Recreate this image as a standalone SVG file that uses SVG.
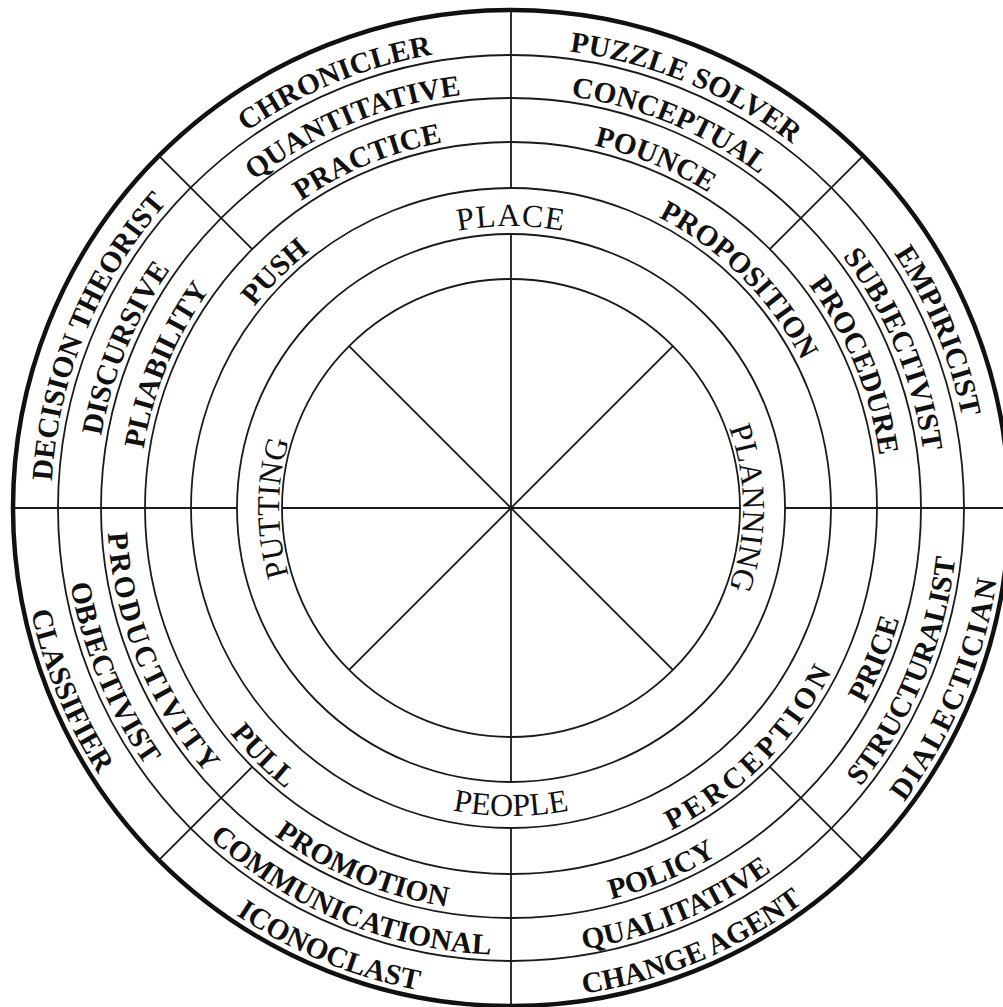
<svg xmlns="http://www.w3.org/2000/svg" xmlns:xlink="http://www.w3.org/1999/xlink" width="1003" height="1007" viewBox="0 0 1003 1007">
<style>
.ring{fill:none;stroke:#1a1a1a;stroke-width:1.8}
.outer{fill:none;stroke:#111;stroke-width:4.5}
.ln{stroke:#1a1a1a;stroke-width:1.8;fill:none}
.b{font-family:"Liberation Serif","Times New Roman",serif;font-weight:bold;font-size:29.5px;fill:#111}
.r{font-family:"Liberation Serif","Times New Roman",serif;font-size:32px;fill:#111}
</style>
<defs>
<path id="cwA" d="M 346.95 343.95 A 232 232 0 0 1 675.05 343.95"/>
<path id="cwB" d="M 311.60 308.60 A 282 282 0 0 1 710.40 308.60"/>
<path id="cwC" d="M 280.48 277.48 A 326 326 0 0 1 741.52 277.48"/>
<path id="cwD" d="M 247.96 244.96 A 372 372 0 0 1 774.04 244.96"/>
<path id="cwE" d="M 216.84 213.84 A 416 416 0 0 1 805.16 213.84"/>
<path id="cwF" d="M 185.73 182.73 A 460 460 0 0 1 836.27 182.73"/>
<path id="ccB" d="M 293.21 725.79 A 308 308 0 0 0 728.79 725.79"/>
<path id="ccC" d="M 256.44 762.56 A 360 360 0 0 0 765.56 762.56"/>
<path id="ccD" d="M 225.33 793.67 A 404 404 0 0 0 796.67 793.67"/>
<path id="ccE" d="M 194.92 824.08 A 447 447 0 0 0 827.08 824.08"/>
<path id="ccF" d="M 163.81 855.19 A 491 491 0 0 0 858.19 855.19"/>
</defs>
<rect width="1003" height="1007" fill="#fff"/>
<g id="rings">
<circle class="outer" cx="511" cy="508" r="498"/>
<circle class="ring" cx="511" cy="508" r="453"/>
<circle class="ring" cx="511" cy="508" r="410"/>
<circle class="ring" cx="511" cy="508" r="366"/>
<circle class="ring" cx="511" cy="508" r="320"/>
<circle class="ring" cx="511" cy="508" r="274"/>
<circle class="ring" cx="511" cy="508" r="229"/>
</g>
<g id="connectors">
<line class="ln" x1="511" y1="10" x2="511" y2="188"/>
<line class="ln" x1="511" y1="234" x2="511" y2="782"/>
<line class="ln" x1="511" y1="828" x2="511" y2="1006"/>
<line class="ln" x1="13" y1="508" x2="237" y2="508"/>
<line class="ln" x1="282" y1="508" x2="740" y2="508"/>
<line class="ln" x1="785" y1="508" x2="1003" y2="508"/>
<line class="ln" x1="349.1" y1="346.1" x2="672.9" y2="669.9"/>
<line class="ln" x1="672.9" y1="346.1" x2="349.1" y2="669.9"/>
<line class="ln" x1="252.2" y1="249.2" x2="158.9" y2="155.9"/>
<line class="ln" x1="769.8" y1="249.2" x2="863.1" y2="155.9"/>
<line class="ln" x1="252.2" y1="766.8" x2="158.9" y2="860.1"/>
<line class="ln" x1="769.8" y1="766.8" x2="863.1" y2="860.1"/>
</g>
<g id="core">
<text class="r" letter-spacing="1"><textPath href="#cwB" xlink:href="#cwB" startOffset="50%" text-anchor="middle">PLACE</textPath></text>
<text class="r"><textPath href="#ccB" xlink:href="#ccB" startOffset="50%" text-anchor="middle">PEOPLE</textPath></text>
<text class="r" transform="rotate(-90 511 508)"><textPath href="#cwA" xlink:href="#cwA" startOffset="50%" text-anchor="middle">PUTTING</textPath></text>
<text class="r" transform="rotate(90 511 508)"><textPath href="#cwA" xlink:href="#cwA" startOffset="50%" text-anchor="middle">PLANNING</textPath></text>
</g>
<g id="ringC">
<text class="b" transform="rotate(-45 511 508)"><textPath href="#cwC" xlink:href="#cwC" startOffset="50%" text-anchor="middle">PUSH</textPath></text>
<text class="b" transform="rotate(45 511 508)"><textPath href="#cwC" xlink:href="#cwC" startOffset="50%" text-anchor="middle">PROPOSITION</textPath></text>
<text class="b" transform="rotate(-45 511 508)" letter-spacing="4"><textPath href="#ccC" xlink:href="#ccC" startOffset="50%" text-anchor="middle">PERCEPTION</textPath></text>
<text class="b" transform="rotate(45 511 508)"><textPath href="#ccC" xlink:href="#ccC" startOffset="50%" text-anchor="middle">PULL</textPath></text>
</g>
<g id="oct-top-left">
<text class="b" transform="rotate(-22.5 511 508)"><textPath href="#cwF" xlink:href="#cwF" startOffset="50%" text-anchor="middle">CHRONICLER</textPath></text>
<text class="b" transform="rotate(-22.5 511 508)"><textPath href="#cwE" xlink:href="#cwE" startOffset="50%" text-anchor="middle">QUANTITATIVE</textPath></text>
<text class="b" transform="rotate(-22.5 511 508)"><textPath href="#cwD" xlink:href="#cwD" startOffset="50%" text-anchor="middle">PRACTICE</textPath></text>
</g>
<g id="oct-top-right">
<text class="b" transform="rotate(22.5 511 508)"><textPath href="#cwF" xlink:href="#cwF" startOffset="50%" text-anchor="middle">PUZZLE SOLVER</textPath></text>
<text class="b" transform="rotate(22.5 511 508)"><textPath href="#cwE" xlink:href="#cwE" startOffset="50%" text-anchor="middle">CONCEPTUAL</textPath></text>
<text class="b" transform="rotate(22.5 511 508)"><textPath href="#cwD" xlink:href="#cwD" startOffset="50%" text-anchor="middle">POUNCE</textPath></text>
</g>
<g id="oct-right-upper">
<text class="b" transform="rotate(67.5 511 508)"><textPath href="#cwF" xlink:href="#cwF" startOffset="50%" text-anchor="middle">EMPIRICIST</textPath></text>
<text class="b" transform="rotate(67.5 511 508)"><textPath href="#cwE" xlink:href="#cwE" startOffset="50%" text-anchor="middle">SUBJECTIVIST</textPath></text>
<text class="b" transform="rotate(67.5 511 508)"><textPath href="#cwD" xlink:href="#cwD" startOffset="50%" text-anchor="middle">PROCEDURE</textPath></text>
</g>
<g id="oct-right-lower">
<text class="b" transform="rotate(-67.5 511 508)" letter-spacing="2"><textPath href="#ccF" xlink:href="#ccF" startOffset="50%" text-anchor="middle">DIALECTICIAN</textPath></text>
<text class="b" transform="rotate(-67.5 511 508)"><textPath href="#ccE" xlink:href="#ccE" startOffset="50%" text-anchor="middle">STRUCTURALIST</textPath></text>
<text class="b" transform="rotate(-67.5 511 508)"><textPath href="#ccD" xlink:href="#ccD" startOffset="50%" text-anchor="middle">PRICE</textPath></text>
</g>
<g id="oct-bottom-right">
<text class="b" transform="rotate(-22.5 511 508)"><textPath href="#ccF" xlink:href="#ccF" startOffset="50%" text-anchor="middle">CHANGE AGENT</textPath></text>
<text class="b" transform="rotate(-22.5 511 508)"><textPath href="#ccE" xlink:href="#ccE" startOffset="50%" text-anchor="middle">QUALITATIVE</textPath></text>
<text class="b" transform="rotate(-22.5 511 508)"><textPath href="#ccD" xlink:href="#ccD" startOffset="50%" text-anchor="middle">POLICY</textPath></text>
</g>
<g id="oct-bottom-left">
<text class="b" transform="rotate(22.5 511 508)"><textPath href="#ccF" xlink:href="#ccF" startOffset="50%" text-anchor="middle">ICONOCLAST</textPath></text>
<text class="b" transform="rotate(22.5 511 508)"><textPath href="#ccE" xlink:href="#ccE" startOffset="50%" text-anchor="middle">COMMUNICATIONAL</textPath></text>
<text class="b" transform="rotate(22.5 511 508)"><textPath href="#ccD" xlink:href="#ccD" startOffset="50%" text-anchor="middle">PROMOTION</textPath></text>
</g>
<g id="oct-left-lower">
<text class="b" transform="rotate(67.5 511 508)"><textPath href="#ccF" xlink:href="#ccF" startOffset="50%" text-anchor="middle">CLASSIFIER</textPath></text>
<text class="b" transform="rotate(67.5 511 508)"><textPath href="#ccE" xlink:href="#ccE" startOffset="50%" text-anchor="middle">OBJECTIVIST</textPath></text>
<text class="b" transform="rotate(67.5 511 508)" letter-spacing="3"><textPath href="#ccD" xlink:href="#ccD" startOffset="50%" text-anchor="middle">PRODUCTIVITY</textPath></text>
</g>
<g id="oct-left-upper">
<text class="b" transform="rotate(-67.5 511 508)"><textPath href="#cwF" xlink:href="#cwF" startOffset="50%" text-anchor="middle">DECISION THEORIST</textPath></text>
<text class="b" transform="rotate(-67.5 511 508)"><textPath href="#cwE" xlink:href="#cwE" startOffset="50%" text-anchor="middle">DISCURSIVE</textPath></text>
<text class="b" transform="rotate(-67.5 511 508)"><textPath href="#cwD" xlink:href="#cwD" startOffset="50%" text-anchor="middle">PLIABILITY</textPath></text>
</g>
</svg>
